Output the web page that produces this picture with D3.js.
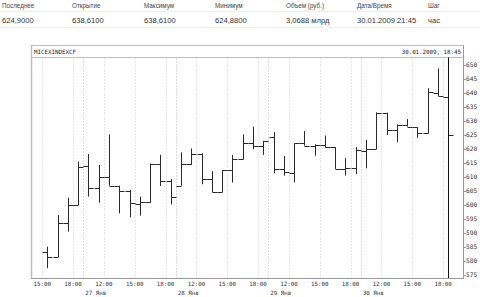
<!DOCTYPE html>
<html><head><meta charset="utf-8">
<script src="https://cdn.jsdelivr.net/npm/d3@7"></script>
<style>
html,body{margin:0;padding:0;background:#fff;}
svg{display:block;}
</style>
</head><body>
<script>
// ---- data ----
const headerLabels = ["Последнее","Открытие","Максимум","Минимум","Объем (руб.)","Дата/Время","Шаг"];
const headerValues = ["624,9000","638,6100","638,6100","624,8800","3,0688 млрд","30.01.2009 21:45","час"];
const chartTitle = "MICEXINDEXCF";
const chartStamp = "30.01.2009, 18:45";
const barHours = [15,16,17,18,
  10,11,12,13,14,15,16,17,18,
  10,11,12,13,14,15,16,17,18,
  10,11,12,13,14,15,16,17,18,
  10,11,12,13,14,15,16,17,18];
const dayStarts = [4,13,22,31];
const dayLabels = ["27 Янв","28 Янв","29 Янв","30 Янв"];
const openV  = [583.3,581.4,593.7,600.0,613.8,606.0,610.1,606.9,605.1,600.3,601.0,614.6,608.6,606.9,614.6,618.2,609.3,604.5,612.4,616.3,622.0,621.2,624.4,612.9,611.5,622.0,621.2,621.5,620.8,612.9,613.3,619.3,619.9,633.0,626.8,628.6,627.8,625.6,639.9,638.61];
const highV  = [585.1,596.4,602.6,615.5,618.2,614.3,625.2,606.9,605.4,603.0,614.8,617.9,609.3,618.8,620.2,618.5,612.1,612.5,617.9,625.2,628.0,622.9,626.0,617.5,622.0,626.4,621.7,624.8,620.7,616.7,620.6,623.2,633.1,633.0,628.8,630.7,627.8,641.7,648.8,638.61];
const lowV   = [577.4,581.4,590.5,600.0,603.0,600.8,606.9,597.0,595.6,596.2,600.8,606.8,600.2,606.9,614.3,607.4,604.5,604.5,608.0,616.3,619.9,617.9,611.3,610.5,608.1,621.2,617.6,620.5,612.9,610.5,611.0,613.1,619.9,625.0,622.4,628.0,624.0,625.5,638.9,624.88];
const closeV = [581.4,593.7,600.0,613.5,606.0,610.1,606.9,605.1,600.6,601.0,614.6,608.6,603.0,614.6,618.2,609.3,604.5,612.4,616.3,622.0,621.2,622.9,612.9,611.9,622.0,621.2,621.5,620.8,612.9,613.3,619.6,619.9,633.0,626.8,628.6,628.0,625.6,640.2,639.0,624.90];
const yTicks = [575,580,585,590,595,600,605,610,615,620,625,630,635,640,645,650];

// ---- layout ----
const W = 480, H = 297;
const frameL = 31, frameR = 463, frameT = 45, headB = 57.5, plotB = 278;
const svg = d3.select("body").append("svg").attr("width", W).attr("height", H);

const n = openV.length;
const x = d3.scaleLinear().domain([0, n]).range([42.2, 42.2 + n * 10.28]);
const y = d3.scaleLinear().domain([575, 650]).range([275, 65]);
const cx = i => Math.round(x(i + 0.5)) + 0.5;

// ---- top info header ----
const hx = [2,72,144,215,286,357,428];
svg.append("line").attr("x1",0).attr("x2",W).attr("y1",11.5).attr("y2",11.5).attr("stroke","#eeeeee");
svg.append("line").attr("x1",0).attr("x2",W).attr("y1",27.5).attr("y2",27.5).attr("stroke","#eeeeee");
svg.selectAll("text.hl").data(headerLabels).join("text").attr("class","hl")
  .attr("x",(d,i)=>hx[i]).attr("y",8)
  .attr("font-family","Liberation Sans, Arial, sans-serif").attr("font-size",6.3).attr("fill","#444").text(d=>d);
svg.selectAll("text.hv").data(headerValues).join("text").attr("class","hv")
  .attr("x",(d,i)=>hx[i]).attr("y",23)
  .attr("font-family","Liberation Sans, Arial, sans-serif").attr("font-size",7.6).attr("fill","#333").text(d=>d);

// ---- chart frame ----
svg.append("rect").attr("x",frameL+0.5).attr("y",frameT+0.5).attr("width",frameR-frameL).attr("height",headB-frameT-0.5)
  .attr("fill","#fff").attr("stroke","#bdbdbd");
svg.append("line").attr("x1",frameL+0.5).attr("x2",frameL+0.5).attr("y1",frameT).attr("y2",plotB).attr("stroke","#bdbdbd").attr("stroke-width",1.5);
svg.append("text").attr("x",34).attr("y",54).attr("font-family","DejaVu Sans Mono, monospace").attr("font-size",5.8).attr("fill","#222").text(chartTitle);
svg.append("text").attr("x",461).attr("y",54).attr("text-anchor","end").attr("font-family","DejaVu Sans Mono, monospace").attr("font-size",5.8).attr("fill","#222").text(chartStamp);

// ---- vertical grid ----
const tickIdx = d3.range(0, n, 3);
const gridIdx = Array.from(new Set(tickIdx.concat(dayStarts)));
svg.selectAll("line.grid").data(gridIdx).join("line").attr("class","grid")
  .attr("x1",d=>Math.round(x(d))+0.5).attr("x2",d=>Math.round(x(d))+0.5)
  .attr("y1",headB+1).attr("y2",plotB)
  .attr("stroke",d=>dayStarts.includes(d)?"#bbbbbb":"#cfcfcf").attr("stroke-dasharray","1,2");

// ---- axes lines ----
svg.append("line").attr("x1",frameL).attr("x2",frameR+0.5).attr("y1",plotB+0.5).attr("y2",plotB+0.5).attr("stroke","#9a9a9a");
svg.append("line").attr("x1",frameR+0.5).attr("x2",frameR+0.5).attr("y1",frameT).attr("y2",plotB+1).attr("stroke","#9a9a9a");

// ---- right axis ----
const ya = svg.append("g");
ya.selectAll("line").data(yTicks).join("line")
  .attr("x1",frameR+1).attr("x2",frameR+3).attr("y1",d=>Math.round(y(d))+0.5).attr("y2",d=>Math.round(y(d))+0.5).attr("stroke","#999");
ya.selectAll("text").data(yTicks).join("text")
  .attr("x",466).attr("y",d=>y(d)).attr("dy","0.35em")
  .attr("font-family","DejaVu Sans Mono, monospace").attr("font-size",6.2).attr("fill","#333").text(d=>d);

// ---- bottom axis ----
svg.selectAll("text.tl").data(tickIdx).join("text").attr("class","tl")
  .attr("x",d=>x(d)).attr("y",285.5).attr("text-anchor","middle")
  .attr("font-family","DejaVu Sans Mono, monospace").attr("font-size",5.8).attr("fill","#333")
  .text(d=>barHours[d]+":00");
svg.selectAll("text.dl").data(dayStarts).join("text").attr("class","dl")
  .attr("x",d=>x(d)+2).attr("y",294.5)
  .attr("font-family","DejaVu Sans Mono, monospace").attr("font-size",5.8).attr("fill","#333")
  .text((d,i)=>dayLabels[i]);

// ---- OHLC bars ----
const bars = svg.append("g").attr("stroke","#2a2a2a").attr("stroke-width",1);
const idx = d3.range(n);
bars.selectAll("line.hl").data(idx).join("line").attr("class","hl")
  .attr("x1",cx).attr("x2",cx).attr("y1",i=>y(highV[i])).attr("y2",i=>y(lowV[i]));
bars.selectAll("line.op").data(idx).join("line").attr("class","op")
  .attr("x1",i=>cx(i)-5).attr("x2",cx).attr("y1",i=>Math.round(y(openV[i]))+0.5).attr("y2",i=>Math.round(y(openV[i]))+0.5);
bars.selectAll("line.cl").data(idx).join("line").attr("class","cl")
  .attr("x1",cx).attr("x2",i=>cx(i)+5).attr("y1",i=>Math.round(y(closeV[i]))+0.5).attr("y2",i=>Math.round(y(closeV[i]))+0.5);

// ---- cursor line at last bar ----
svg.append("line").attr("x1",cx(n-1)).attr("x2",cx(n-1)).attr("y1",headB).attr("y2",plotB)
  .attr("stroke","#111").attr("stroke-width",1);
</script>
</body></html>
